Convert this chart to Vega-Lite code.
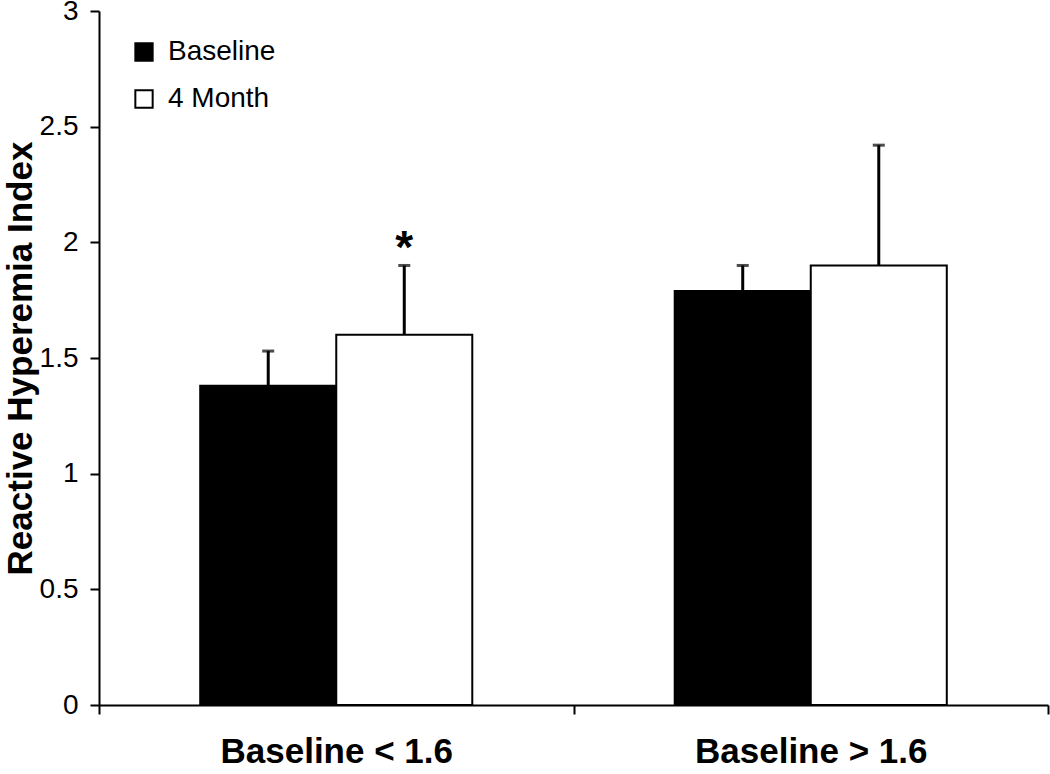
{
  "$schema": "https://vega.github.io/schema/vega-lite/v6.json",
  "width": 949,
  "height": 694,
  "autosize": {"type": "none"},
  "padding": {"left": 99, "top": 11, "right": 2, "bottom": 69},
  "background": "white",
  "config": {
    "view": {"stroke": null},
    "font": "Liberation Sans",
    "axis": {"grid": false, "domainColor": "black", "tickColor": "black", "labelColor": "black", "titleColor": "black", "domainWidth": 2, "tickWidth": 2},
    "axisX": {"labelFontSize": 35, "labelFontWeight": "bold", "labelPadding": 20, "tickSize": 9, "labelAngle": 0, "labelLimit": 0},
    "axisY": {"labelFontSize": 28, "labelPadding": 12, "tickSize": 9, "titleFontSize": 35, "titleFontWeight": "bold", "titlePadding": 1, "labelFlush": false}
  },
  "data": {
    "values": [
      {"group": "Baseline < 1.6", "time": "Baseline", "value": 1.38, "upper": 1.53, "mark": ""},
      {"group": "Baseline < 1.6", "time": "4 Month", "value": 1.6, "upper": 1.9, "mark": "*"},
      {"group": "Baseline > 1.6", "time": "Baseline", "value": 1.79, "upper": 1.9, "mark": ""},
      {"group": "Baseline > 1.6", "time": "4 Month", "value": 1.9, "upper": 2.42, "mark": ""}
    ]
  },
  "encoding": {
    "x": {
      "field": "group",
      "type": "nominal",
      "sort": ["Baseline < 1.6", "Baseline > 1.6"],
      "scale": {"paddingInner": 0, "paddingOuter": 0},
      "axis": {"title": null, "tickBand": "extent"}
    },
    "xOffset": {
      "field": "time",
      "type": "nominal",
      "sort": ["Baseline", "4 Month"],
      "scale": {"paddingInner": 0, "paddingOuter": 0.744}
    }
  },
  "layer": [
    {
      "mark": {"type": "bar", "stroke": "black", "strokeWidth": 2},
      "encoding": {
        "y": {
          "field": "value",
          "type": "quantitative",
          "scale": {"domain": [0, 3], "nice": false},
          "axis": {
            "title": "Reactive Hyperemia Index",
            "values": [0, 0.5, 1, 1.5, 2, 2.5, 3],
            "format": "~g"
          }
        },
        "fill": {
          "field": "time",
          "type": "nominal",
          "sort": ["Baseline", "4 Month"],
          "scale": {"domain": ["Baseline", "4 Month"], "range": ["black", "white"]},
          "legend": {
            "title": null,
            "orient": "none",
            "legendX": 31,
            "legendY": 27,
            "symbolType": "square",
            "symbolSize": 300,
            "symbolStrokeColor": "black",
            "symbolStrokeWidth": 2,
            "labelFontSize": 28,
            "labelColor": "black",
            "labelOffset": 10,
            "rowPadding": 19,
            "labelFont": "Liberation Sans"
          }
        }
      }
    },
    {
      "mark": {"type": "rule", "color": "black", "strokeWidth": 3},
      "encoding": {
        "y": {"field": "value", "type": "quantitative"},
        "y2": {"field": "upper"}
      }
    },
    {
      "mark": {"type": "tick", "color": "black", "thickness": 3, "size": 12, "orient": "horizontal"},
      "encoding": {
        "y": {"field": "upper", "type": "quantitative"}
      }
    },
    {
      "mark": {"type": "text", "fontSize": 46, "fontWeight": "bold", "baseline": "alphabetic", "color": "black", "dy": -2},
      "encoding": {
        "y": {"field": "upper", "type": "quantitative"},
        "text": {"field": "mark"}
      },
      "transform": [{"filter": "datum.mark != ''"}]
    }
  ]
}
